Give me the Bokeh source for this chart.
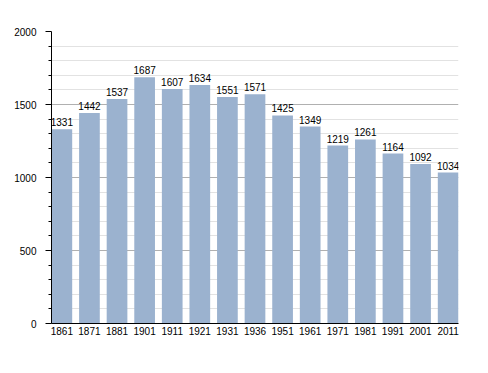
from bokeh.plotting import figure
from bokeh.models import ColumnDataSource, FactorRange, Range1d, FixedTicker
from bokeh.core.properties import value
from bokeh.embed import file_html
from bokeh.resources import INLINE

years = ["1861", "1871", "1881", "1901", "1911", "1921", "1931", "1936",
         "1951", "1961", "1971", "1981", "1991", "2001", "2011"]
population = [1331, 1442, 1537, 1687, 1607, 1634, 1551, 1571,
              1425, 1349, 1219, 1261, 1164, 1092, 1034]
y_ticks = [0, 500, 1000, 1500, 2000]
y_minor = [v for v in range(0, 2001, 100) if v % 500 != 0]

source = ColumnDataSource(data=dict(
    year=years, pop=population, label=[str(v) for v in population]))

p = figure(width=480, height=353, output_backend="svg", toolbar_location=None,
           x_range=FactorRange(*years, range_padding=-0.125,
                               range_padding_units="absolute"),
           y_range=Range1d(0, 2000),
           min_border_left=51, min_border_top=31, min_border_right=22,
           min_border_bottom=30)

p.vbar(x="year", top="pop", width=0.75, source=source,
       fill_color="#9bb2cf", line_color=None)

p.text(x="year", y="pop", text="label", source=source,
       text_align="center", text_baseline="bottom", y_offset=-3,
       text_font=value("Liberation Sans"), text_font_size="10px",
       text_color="#000000")

p.outline_line_color = None
p.xgrid.grid_line_color = None
p.ygrid.ticker = FixedTicker(ticks=y_ticks, minor_ticks=y_minor)
p.ygrid.grid_line_color = "#b0b0b0"
p.ygrid.minor_grid_line_color = "#e2e2e2"

p.yaxis.ticker = FixedTicker(ticks=y_ticks, minor_ticks=y_minor)
for ax in (p.xaxis[0], p.yaxis[0]):
    ax.axis_line_color = "#000000"
    ax.major_label_text_font = "Liberation Sans"
    ax.major_label_text_font_size = "10px"
    ax.major_label_text_color = "#000000"
p.yaxis.major_tick_line_color = "#000000"
p.yaxis.minor_tick_line_color = "#000000"
p.yaxis.major_tick_out = 6
p.yaxis.major_tick_in = 0
p.yaxis.minor_tick_out = 3
p.yaxis.minor_tick_in = 0
p.xaxis.major_tick_line_color = None
p.xaxis.major_tick_out = 0
p.xaxis.major_label_standoff = 3
p.yaxis.major_label_standoff = 9

open("out.html", "w").write(file_html(p, INLINE))
